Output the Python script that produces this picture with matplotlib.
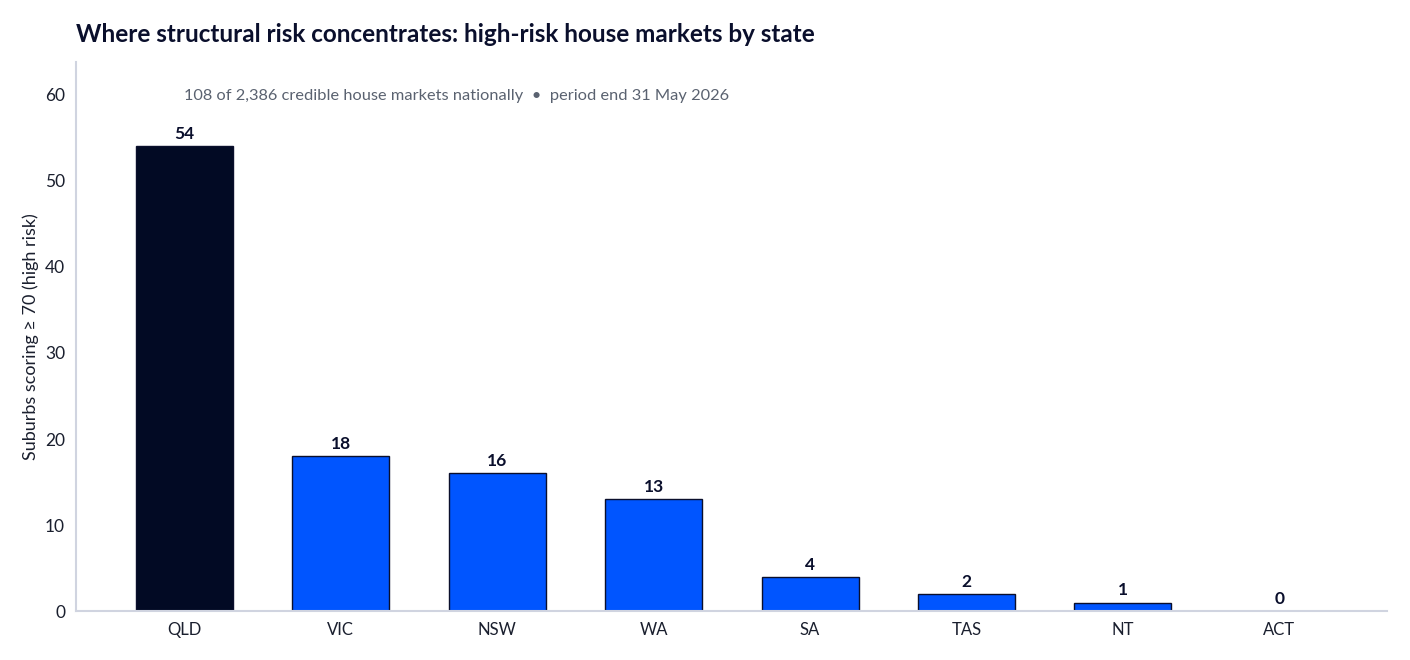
import matplotlib.pyplot as plt

plt.rcParams['font.family'] = ['Lato', 'DejaVu Sans']

estados = ["QLD", "VIC", "NSW", "WA", "SA", "TAS", "NT", "ACT"]
conteo = [54, 18, 16, 13, 4, 2, 1, 0]
colores = ["#020a24", "#0055ff", "#0055ff", "#0055ff", "#0055ff", "#0055ff", "#0055ff", "#0055ff"]

fig = plt.figure(figsize=(14.1, 6.6), dpi=100)
ax = fig.add_axes([0.054, 0.074, 0.930, 0.832])

x = range(len(estados))
ax.bar(x, conteo, width=0.62, color=colores, edgecolor="#0a0f2c", linewidth=1)

for i, v in enumerate(conteo):
    ax.annotate(f"{v}", (i, v), textcoords="offset points", xytext=(0, 3),
                ha='center', va='bottom', fontsize=12.5, fontweight='bold', color="#0a0f2c")

ax.set_xticks(list(x))
ax.set_xticklabels(estados, fontsize=12, color="#1a1f2e")
ax.set_xlim(-0.69, 7.69)
ax.set_ylim(0, 63.8)
ax.set_yticks([0, 10, 20, 30, 40, 50, 60])
ax.tick_params(axis='y', labelsize=12.5, labelcolor="#1a1f2e", length=0, pad=8)
ax.tick_params(axis='x', length=0, pad=8)
ax.set_ylabel("Suburbs scoring ≥ 70 (high risk)", fontsize=13, color="#1a1f2e", labelpad=4)

for s in ["top", "right"]:
    ax.spines[s].set_visible(False)
for s in ["left", "bottom"]:
    ax.spines[s].set_color("#d0d4e0")
    ax.spines[s].set_linewidth(1.5)

ax.text(0, 59.8, "108 of 2,386 credible house markets nationally  •  period end 31 May 2026",
        ha='left', va='center', fontsize=11.8, color="#5a6270")

fig.text(0.054, 0.948, "Where structural risk concentrates: high-risk house markets by state",
         ha='left', va='center', fontsize=17.5, fontweight='bold', color="#0a0f2c")

fig.savefig("out.png", dpi=100)
